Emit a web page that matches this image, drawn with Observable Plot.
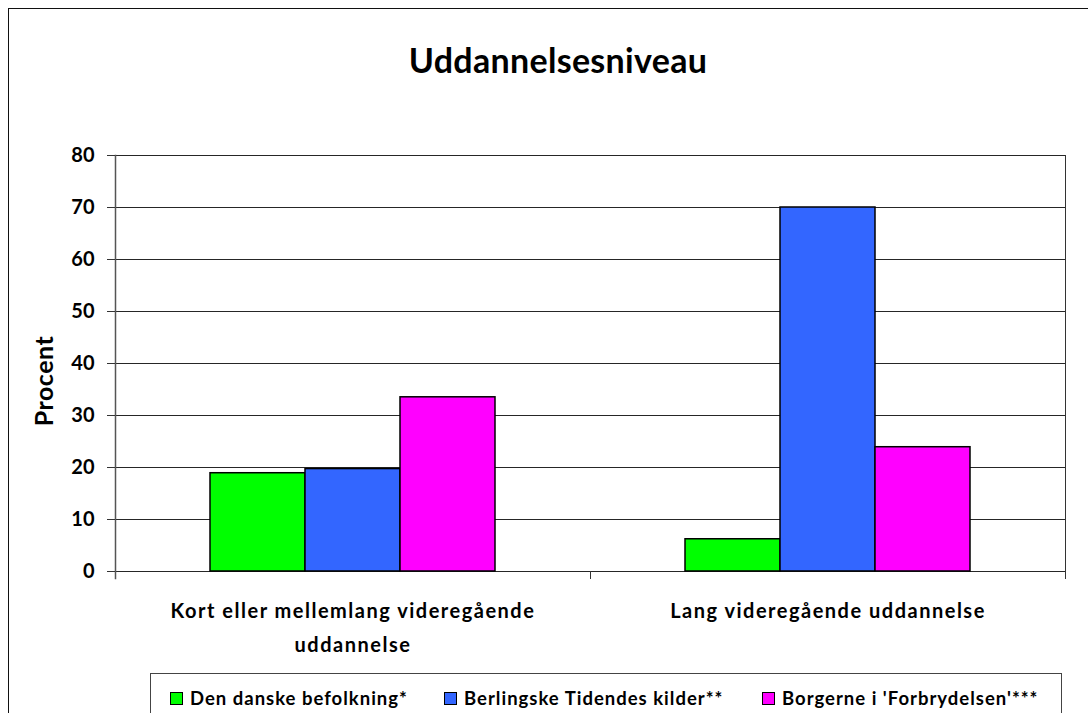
<!DOCTYPE html>
<html>
<head>
<meta charset="utf-8">
<script src="https://cdn.jsdelivr.net/npm/d3@7"></script>
<script src="https://cdn.jsdelivr.net/npm/@observablehq/plot@0.6"></script>
<style>
  html, body { margin: 0; padding: 0; background: #fff; }
  #chart { position: relative; width: 1088px; height: 713px; overflow: hidden; font-family: Lato, "Open Sans", sans-serif; color: #000; }
  #border { position: absolute; left: 8px; top: 8px; width: 1200px; height: 900px; border: 1.5px solid #111; box-sizing: border-box; }
  #title { position: absolute; left: 0; top: 43px; width: 1116px; text-align: center; font-size: 34px; font-weight: bold; line-height: 1; letter-spacing: 0.3px; }
  #ylabel { position: absolute; left: 43px; top: 381px; transform: translate(-50%, -50%) rotate(-90deg); font-size: 25px; font-weight: bold; white-space: nowrap; letter-spacing: 0.5px; }
  #plot { position: absolute; left: 0; top: 0; }
  #plot g[aria-label="fx-axis tick label"] text { letter-spacing: 1.5px; }
  #legend { position: absolute; left: 150px; top: 673px; width: 912px; height: 80px; border: 1.2px solid #444; box-sizing: border-box; }
  .item { position: absolute; top: 13px; display: flex; align-items: center; font-size: 18.5px; font-weight: bold; white-space: nowrap; letter-spacing: 1px; }
  .sw { width: 11px; height: 11px; border: 1.5px solid #000; margin-right: 7px; }
</style>
</head>
<body>
<div id="chart">
  <div id="border"></div>
  <div id="title"></div>
  <div id="plot"></div>
  <div id="ylabel"></div>
  <div id="legend"></div>
</div>
<script>
// ---- data ----
const titleText = "Uddannelsesniveau";
const yLabel = "Procent";
const categories = ["Kort eller mellemlang videregående uddannelse", "Lang videregående uddannelse"];
const categoryTickLabels = ["Kort eller mellemlang videregående\nuddannelse", "Lang videregående uddannelse"];
const series = ["Den danske befolkning*", "Berlingske Tidendes kilder**", "Borgerne i 'Forbrydelsen'***"];
const colors = ["#00ff00", "#3366ff", "#ff00ff"];
const valuesDanske = [18.9, 6.2];
const valuesBerlingske = [19.7, 70.0];
const valuesForbrydelsen = [33.5, 23.9];
const yTicks = [0, 10, 20, 30, 40, 50, 60, 70, 80];

const seriesValues = [valuesDanske, valuesBerlingske, valuesForbrydelsen];
const data = [];
categories.forEach((c, ci) => series.forEach((s, si) => data.push({category: c, series: s, value: seriesValues[si][ci]})));

// ---- layout ----
const W = 1088, H = 713;
const mL = 114, mR = 23, mT = 155, mB = 142;
const plotH = H - mT - mB;

document.getElementById("title").textContent = titleText;
document.getElementById("ylabel").textContent = yLabel;

const chart = Plot.plot({
  width: W,
  height: H,
  marginLeft: mL,
  marginRight: mR,
  marginTop: mT,
  marginBottom: mB,
  style: { fontFamily: "Lato, 'Open Sans', sans-serif", color: "#000", background: "transparent" },
  fx: { domain: categories, padding: 0, label: null },
  x: { domain: series, paddingInner: 0, paddingOuter: 1, axis: null },
  y: { domain: [0, 80], label: null },
  color: { domain: series, range: colors },
  marks: [
    Plot.gridY(yTicks, { stroke: "#000", strokeOpacity: 0.85, strokeWidth: 1 }),
    Plot.barY(data, { fx: "category", x: "series", y: "value", fill: "series", stroke: "#000", strokeWidth: 1.5 }),
    Plot.frame({ anchor: "left", facetAnchor: "left", insetBottom: -7, stroke: "#555", strokeWidth: 1.5 }),
    Plot.frame({ anchor: "right", facetAnchor: "right", insetBottom: -7, stroke: "#333", strokeWidth: 1 }),
    Plot.frame({ anchor: "left", facetAnchor: "right", insetTop: plotH, insetBottom: -7, stroke: "#333", strokeWidth: 1 }),
    Plot.axisY(yTicks, { tickSize: 8, tickPadding: 13, fontSize: 20, fontWeight: "bold", label: null, stroke: "#333", fill: "#000" }),
    Plot.axisFx({ anchor: "bottom", tickSize: 0, tickPadding: 22, fontSize: 20, fontWeight: "bold", lineHeight: 1.7, fill: "#000", label: null,
      tickFormat: d => categoryTickLabels[categories.indexOf(d)] })
  ]
});
document.getElementById("plot").appendChild(chart);

// legend
const legend = document.getElementById("legend");
const itemLefts = [19, 293, 611];
series.forEach((s, i) => {
  const it = document.createElement("div");
  it.className = "item";
  it.style.left = itemLefts[i] + "px";
  const sw = document.createElement("span");
  sw.className = "sw";
  sw.style.background = colors[i];
  const tx = document.createElement("span");
  tx.textContent = s;
  it.appendChild(sw); it.appendChild(tx);
  legend.appendChild(it);
});
</script>
</body>
</html>
